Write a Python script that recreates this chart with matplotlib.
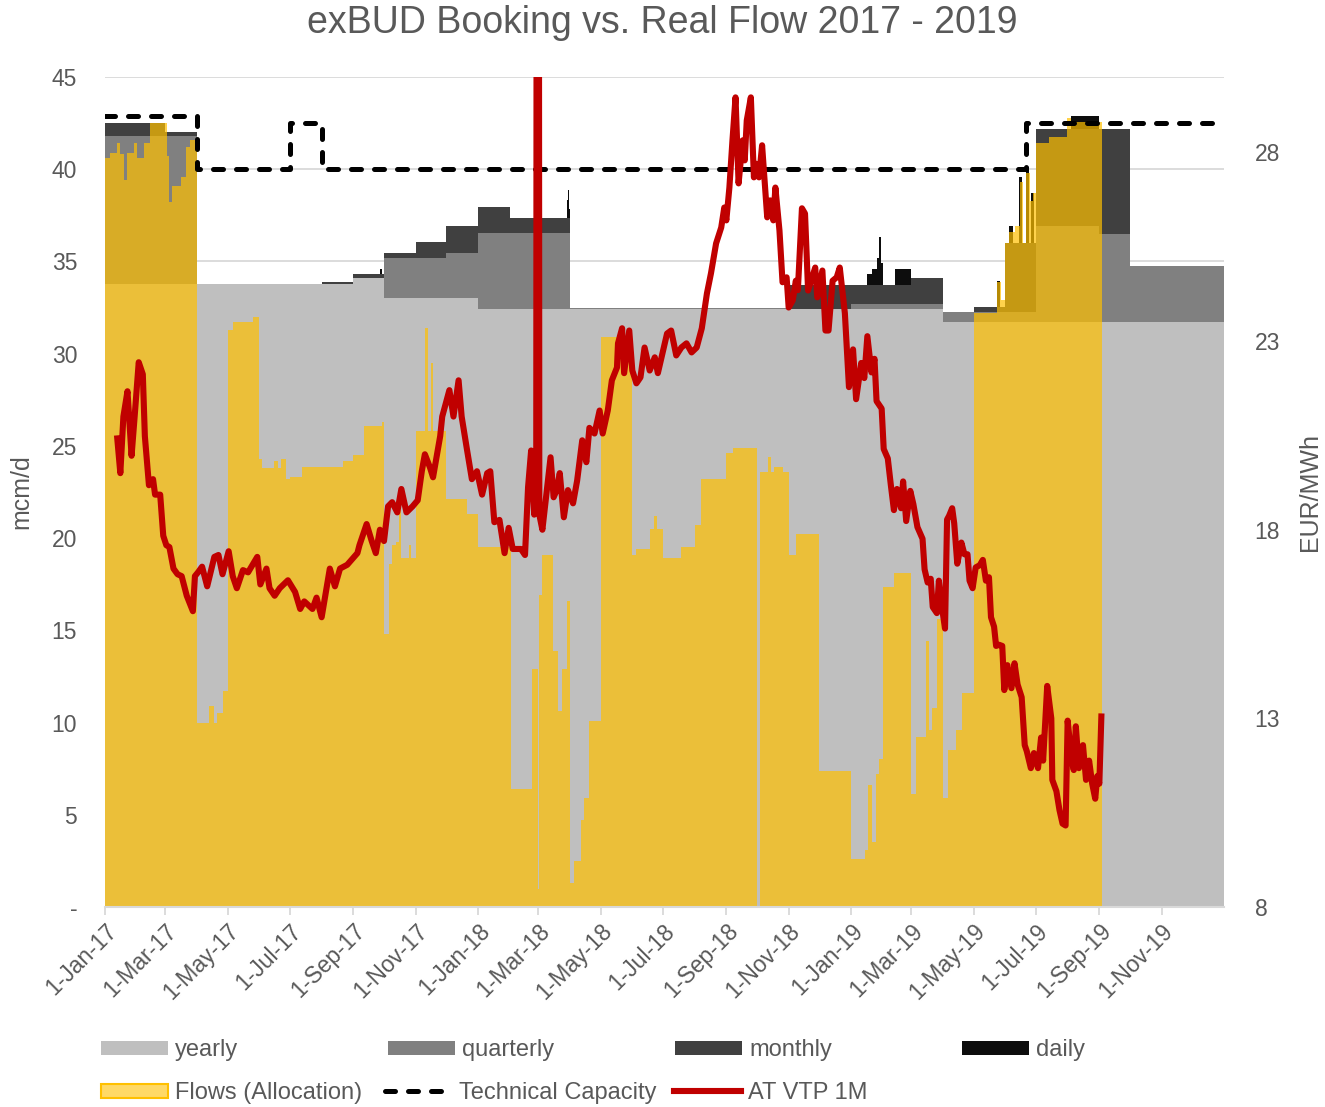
"""
exBUD booking vs. real flow 2017 - 2019
"""
import matplotlib
matplotlib.use('Agg')
import matplotlib.pyplot as plt
import matplotlib.dates as mdates
from matplotlib.patches import Patch
from matplotlib.lines import Line2D
import numpy as np
import pandas as pd

plt.rcParams['font.family'] = ['Liberation Sans', 'DejaVu Sans']
GREY_TXT = '#595959'

# ---------------------------------------------------------------------------------------------------------------------
# Data (step series: value holds from its date until the next date)
# ---------------------------------------------------------------------------------------------------------------------
yearly_dates = ['2017-01-01', '2017-09-01', '2017-10-01', '2018-01-01', '2019-04-01']
yearly_vals = [33.8, 34.1, 33.0, 32.4, 31.7]

quarterly_dates = ['2017-01-01', '2017-04-01', '2017-10-01', '2017-12-01', '2018-01-01', '2018-04-01',
                   '2018-11-01', '2019-01-01', '2019-04-01', '2019-07-01', '2019-09-01', '2019-10-01']
quarterly_vals = [8.0, 0.0, 2.17, 2.47, 4.12, 0.08, 0.0, 0.3, 0.55, 5.2, 4.8, 3.05]

monthly_dates = ['2017-01-01', '2017-03-01', '2017-04-01', '2017-08-01', '2017-09-01', '2017-10-01',
                 '2017-11-01', '2017-12-01', '2018-01-01', '2018-02-01', '2018-04-01', '2018-11-01',
                 '2019-01-01', '2019-03-01', '2019-04-01', '2019-05-01', '2019-06-01', '2019-07-01',
                 '2019-09-01', '2019-10-01']
monthly_vals = [0.7, 0.2, 0.0, 0.1, 0.2, 0.3, 0.9, 1.47, 1.45, 0.82, 0.0, 1.3,
                1.0, 1.4, 0.0, 0.3, 3.75, 5.3, 5.7, 0.0]

daily_dates = ['2017-01-01', '2017-09-27', '2017-09-29', '2018-03-29', '2018-03-30', '2018-03-31',
               '2018-04-01', '2019-01-17', '2019-01-22', '2019-01-26', '2019-01-28', '2019-01-30',
               '2019-02-01', '2019-02-13', '2019-03-01', '2019-05-24', '2019-05-27', '2019-06-05',
               '2019-06-09', '2019-06-14', '2019-06-17', '2019-06-21', '2019-06-24', '2019-06-26',
               '2019-06-29', '2019-08-04', '2019-09-01']
daily_vals = [0.0, 0.3, 0.0, 1.0, 1.55, 0.5,
              0.0, 0.6, 0.9, 1.5, 2.6, 1.2,
              0.0, 0.9, 0.0, 1.4, 0.0, 0.9,
              0.0, 3.6, 0.0, 4.1, 0.0, 2.7,
              0.0, 0.7, 0.0]

flow_dates = ['2017-01-01', '2017-01-06', '2017-01-13', '2017-01-16', '2017-01-20', '2017-01-23',
              '2017-01-29', '2017-02-01', '2017-02-08', '2017-02-14', '2017-03-03', '2017-03-05',
              '2017-03-08', '2017-03-16', '2017-03-21', '2017-03-25', '2017-04-01', '2017-04-13',
              '2017-04-18', '2017-04-21', '2017-04-26', '2017-05-01', '2017-05-06', '2017-05-26',
              '2017-06-01', '2017-06-04', '2017-06-15', '2017-06-19', '2017-06-22', '2017-06-27',
              '2017-07-01', '2017-07-13', '2017-08-22', '2017-09-01', '2017-09-11', '2017-09-29',
              '2017-10-01', '2017-10-06', '2017-10-09', '2017-10-13', '2017-10-16', '2017-10-18',
              '2017-10-25', '2017-10-27', '2017-11-01', '2017-11-10', '2017-11-13', '2017-11-16',
              '2017-11-18', '2017-12-01', '2017-12-21', '2018-01-01', '2018-02-02', '2018-02-23',
              '2018-03-01', '2018-03-02', '2018-03-05', '2018-03-15', '2018-03-20', '2018-03-24',
              '2018-03-29', '2018-04-01', '2018-04-05', '2018-04-12', '2018-04-15', '2018-04-20',
              '2018-05-01', '2018-06-01', '2018-06-05', '2018-06-18', '2018-06-22', '2018-06-25',
              '2018-07-01', '2018-07-19', '2018-08-01', '2018-08-07', '2018-09-01', '2018-09-08',
              '2018-10-01', '2018-10-04', '2018-10-12', '2018-10-15', '2018-10-18', '2018-10-26',
              '2018-11-01', '2018-11-08', '2018-12-01', '2019-01-01', '2019-01-15', '2019-01-18',
              '2019-01-22', '2019-01-25', '2019-01-28', '2019-02-01', '2019-02-12', '2019-03-01',
              '2019-03-06', '2019-03-15', '2019-03-18', '2019-03-21', '2019-03-26', '2019-04-01',
              '2019-04-06', '2019-04-14', '2019-04-20', '2019-05-01', '2019-05-24', '2019-05-28',
              '2019-06-01', '2019-06-05', '2019-06-10', '2019-06-15', '2019-06-18', '2019-06-21',
              '2019-06-25', '2019-06-28', '2019-07-01', '2019-07-14', '2019-07-31', '2019-08-04',
              '2019-09-04']
flow_vals = [40.6, 40.9, 41.4, 40.8, 39.4, 40.9,
             41.4, 40.6, 41.4, 42.5, 40.7, 38.2,
             39.1, 39.6, 41.2, 41.6, 10.0, 10.9,
             10.0, 10.5, 11.7, 31.3, 31.7, 32.0,
             24.3, 23.8, 24.2, 23.8, 24.3, 23.2,
             23.3, 23.85, 24.2, 24.5, 26.1, 26.3,
             14.8, 18.6, 19.6, 19.8, 21.5, 18.9,
             19.6, 18.9, 25.8, 31.4, 25.8, 29.5,
             25.8, 22.1, 21.3, 19.5, 6.4, 12.9,
             1.0, 16.9, 19.1, 13.9, 10.6, 12.9,
             16.6, 1.3, 2.5, 4.7, 5.9, 10.1,
             30.9, 19.1, 19.4, 20.5, 21.2, 20.5,
             18.9, 19.5, 20.7, 23.2, 24.6, 24.9,
             0.0, 23.6, 24.4, 23.6, 23.85, 23.6,
             19.1, 20.25, 7.4, 2.6, 3.1, 6.6,
             3.5, 7.2, 8.0, 17.35, 18.1, 6.1,
             9.2, 14.4, 9.6, 10.8, 15.6, 5.9,
             8.5, 9.6, 11.6, 32.2, 33.9, 32.9,
             36.0, 36.6, 36.9, 39.3, 36.0, 39.8,
             38.3, 38.7, 41.4, 41.75, 42.8, 42.55,
             0.0]

cap_dates = ['2017-01-01', '2017-04-01', '2017-07-01', '2017-08-01', '2019-06-21']
cap_vals = [42.9, 40.0, 42.5, 40.0, 42.5]

price_dates = ['2017-01-13', '2017-01-16', '2017-01-19', '2017-01-23', '2017-01-27', '2017-01-30',
               '2017-02-03', '2017-02-07', '2017-02-09', '2017-02-13', '2017-02-17', '2017-02-19',
               '2017-02-24', '2017-02-27', '2017-03-02', '2017-03-05', '2017-03-09', '2017-03-13',
               '2017-03-17', '2017-03-22', '2017-03-28', '2017-03-30', '2017-04-02', '2017-04-06',
               '2017-04-11', '2017-04-18', '2017-04-22', '2017-04-26', '2017-05-02', '2017-05-06',
               '2017-05-10', '2017-05-16', '2017-05-21', '2017-05-30', '2017-06-02', '2017-06-08',
               '2017-06-11', '2017-06-16', '2017-06-21', '2017-06-29', '2017-07-06', '2017-07-11',
               '2017-07-15', '2017-07-23', '2017-07-27', '2017-08-01', '2017-08-09', '2017-08-14',
               '2017-08-19', '2017-08-26', '2017-09-05', '2017-09-07', '2017-09-14', '2017-09-19',
               '2017-09-23', '2017-09-27', '2017-10-01', '2017-10-05', '2017-10-09', '2017-10-14',
               '2017-10-18', '2017-10-23', '2017-10-29', '2017-11-03', '2017-11-07', '2017-11-10',
               '2017-11-15', '2017-11-18', '2017-11-25', '2017-11-27', '2017-12-04', '2017-12-08',
               '2017-12-13', '2017-12-16', '2017-12-21', '2017-12-26', '2017-12-31', '2018-01-05',
               '2018-01-10', '2018-01-13', '2018-01-17', '2018-01-22', '2018-01-27', '2018-01-31',
               '2018-02-04', '2018-02-12', '2018-02-16', '2018-02-19', '2018-02-22', '2018-02-25',
               '2018-02-27', '2018-02-28', '2018-03-01', '2018-03-02', '2018-03-05', '2018-03-09',
               '2018-03-13', '2018-03-16', '2018-03-19', '2018-03-22', '2018-03-26', '2018-03-30',
               '2018-04-04', '2018-04-08', '2018-04-13', '2018-04-17', '2018-04-20', '2018-04-25',
               '2018-04-30', '2018-05-03', '2018-05-08', '2018-05-12', '2018-05-17', '2018-05-18',
               '2018-05-22', '2018-05-24', '2018-05-29', '2018-06-01', '2018-06-05', '2018-06-09',
               '2018-06-13', '2018-06-18', '2018-06-23', '2018-06-26', '2018-06-30', '2018-07-05',
               '2018-07-09', '2018-07-14', '2018-07-19', '2018-07-24', '2018-07-29', '2018-08-03',
               '2018-08-08', '2018-08-13', '2018-08-17', '2018-08-22', '2018-08-27', '2018-08-30',
               '2018-09-01', '2018-09-04', '2018-09-07', '2018-09-10', '2018-09-13', '2018-09-17',
               '2018-09-19', '2018-09-21', '2018-09-25', '2018-09-28', '2018-09-30', '2018-10-03',
               '2018-10-06', '2018-10-11', '2018-10-14', '2018-10-17', '2018-10-19', '2018-10-23',
               '2018-10-26', '2018-10-30', '2018-11-01', '2018-11-05', '2018-11-08', '2018-11-10',
               '2018-11-14', '2018-11-17', '2018-11-20', '2018-11-24', '2018-11-27', '2018-11-29',
               '2018-12-04', '2018-12-07', '2018-12-10', '2018-12-14', '2018-12-18', '2018-12-21',
               '2018-12-26', '2018-12-30', '2019-01-03', '2019-01-06', '2019-01-11', '2019-01-14',
               '2019-01-17', '2019-01-21', '2019-01-24', '2019-01-26', '2019-01-31', '2019-02-02',
               '2019-02-06', '2019-02-09', '2019-02-12', '2019-02-15', '2019-02-19', '2019-02-21',
               '2019-02-24', '2019-02-28', '2019-03-03', '2019-03-07', '2019-03-12', '2019-03-14',
               '2019-03-17', '2019-03-20', '2019-03-22', '2019-03-26', '2019-03-28', '2019-03-31',
               '2019-04-03', '2019-04-05', '2019-04-07', '2019-04-10', '2019-04-12', '2019-04-15',
               '2019-04-19', '2019-04-22', '2019-04-25', '2019-04-27', '2019-04-30', '2019-05-03',
               '2019-05-07', '2019-05-10', '2019-05-13', '2019-05-16', '2019-05-18', '2019-05-21',
               '2019-05-23', '2019-05-26', '2019-05-29', '2019-05-31', '2019-06-03', '2019-06-07',
               '2019-06-10', '2019-06-13', '2019-06-17', '2019-06-20', '2019-06-22', '2019-06-26',
               '2019-06-29', '2019-07-03', '2019-07-06', '2019-07-08', '2019-07-12', '2019-07-16',
               '2019-07-17', '2019-07-21', '2019-07-24', '2019-07-27', '2019-07-30', '2019-08-01',
               '2019-08-05', '2019-08-07', '2019-08-09', '2019-08-12', '2019-08-16', '2019-08-19',
               '2019-08-22', '2019-08-25', '2019-08-28', '2019-08-30', '2019-09-01', '2019-09-03']
price_vals = [20.42, 19.5, 21.0, 21.67, 19.96, 21.0,
              22.44, 22.12, 20.48, 19.18, 19.34, 18.93,
              18.93, 17.84, 17.59, 17.54, 16.97, 16.82,
              16.77, 16.25, 15.84, 16.77, 16.87, 17.02,
              16.5, 17.28, 17.33, 16.82, 17.43, 16.77,
              16.45, 16.93, 16.87, 17.28, 16.55, 16.97,
              16.45, 16.25, 16.45, 16.66, 16.35, 15.9,
              16.1, 15.9, 16.2, 15.68, 16.97, 16.5,
              16.97, 17.07, 17.38, 17.59, 18.15, 17.7,
              17.38, 18.0, 17.7, 18.62, 18.73, 18.46,
              19.08, 18.46, 18.62, 18.78, 19.55, 20.0,
              19.65, 19.39, 20.48, 21.0, 21.7, 21.0,
              21.96, 21.0, 20.16, 19.34, 19.55, 18.93,
              19.5, 19.55, 18.2, 18.26, 17.38, 18.05,
              17.49, 17.49, 17.33, 19.13, 20.1, 18.4,
              19.65, 60.0, 60.0, 18.4, 18.0, 18.97,
              19.92, 18.86, 19.05, 19.5, 18.33, 19.05,
              18.7, 19.3, 20.37, 19.79, 20.7, 20.55,
              21.16, 20.55, 21.16, 21.96, 22.3, 22.94,
              23.34, 22.15, 23.28, 22.22, 21.88, 22.04,
              22.83, 22.22, 22.57, 22.15, 22.62, 23.2,
              23.28, 22.62, 22.83, 22.94, 22.7, 22.83,
              23.34, 24.26, 24.8, 25.59, 26.01, 26.54,
              26.2, 27.07, 28.32, 29.46, 27.18, 28.32,
              27.79, 28.85, 29.46, 27.34, 27.7, 27.34,
              28.19, 26.28, 26.73, 26.2, 27.07, 25.93,
              24.56, 24.69, 23.89, 24.08, 24.6, 24.35,
              26.52, 26.38, 24.34, 24.69, 24.95, 24.16,
              24.87, 23.28, 23.28, 24.6, 24.69, 24.95,
              23.74, 21.78, 22.78, 21.46, 22.42, 22.02,
              23.13, 22.17, 22.53, 21.41, 21.21, 20.14,
              19.89, 19.18, 18.52, 19.08, 18.57, 19.28,
              18.23, 19.03, 18.68, 18.07, 17.76, 16.95,
              16.6, 16.7, 15.95, 15.79, 16.65, 15.95,
              15.38, 18.27, 18.37, 18.57, 18.17, 17.1,
              17.66, 17.35, 17.35, 16.65, 16.45, 17.0,
              17.06, 17.2, 16.65, 16.74, 15.68, 15.43,
              14.92, 14.95, 14.92, 13.75, 14.41, 13.8,
              14.46, 13.9, 13.56, 12.29, 12.13, 11.68,
              12.08, 11.68, 12.49, 11.88, 13.86, 13.0,
              11.37, 11.07, 10.57, 10.21, 10.16, 12.94,
              11.88, 11.63, 12.79, 11.68, 12.29, 11.37,
              11.88, 11.27, 10.87, 11.47, 11.27, 13.05]

tick_dates = pd.date_range('2017-01-01', '2019-11-01', freq='2MS')

START, END = pd.Timestamp('2017-01-01'), pd.Timestamp('2020-01-01')


def step_series(dates, vals):
    """Close an open step series at END so fill_between(step='post') covers the last period."""
    d = list(pd.to_datetime(dates)) + [END]
    v = list(vals) + [vals[-1]]
    return np.array(d), np.array(v, dtype=float)


def step_at(grid, dates, vals):
    idx = np.searchsorted(pd.to_datetime(dates).values, grid.astype('datetime64[ns]'), side='right') - 1
    return np.asarray(vals, dtype=float)[idx]


# ---------------------------------------------------------------------------------------------------------------------
# Figure
# ---------------------------------------------------------------------------------------------------------------------
fig = plt.figure(figsize=(13.25, 11.07), dpi=100)
ax = fig.add_axes([105 / 1325, 1 - 907 / 1107, 1119 / 1325, 830 / 1107])

# stacked bookings on one common date grid
grid = np.unique(np.concatenate([pd.to_datetime(d).values for d in
                                 (yearly_dates, quarterly_dates, monthly_dates, daily_dates)]
                                + [np.array([END.to_datetime64()])]))
layers = [('yearly', yearly_dates, yearly_vals, '#BFBFBF'),
          ('quarterly', quarterly_dates, quarterly_vals, '#808080'),
          ('monthly', monthly_dates, monthly_vals, '#404040'),
          ('daily', daily_dates, daily_vals, '#0D0D0D')]
base = np.zeros(len(grid))
for name, d, v, col in layers:
    top = base + step_at(grid, d, v)
    ax.fill_between(grid, base, top, step='post', color=col, lw=0, zorder=1)
    base = top

fx, fv = step_series(flow_dates, flow_vals)
ax.fill_between(fx, 0, fv, step='post', color='#FFC000', alpha=0.7, lw=0, zorder=2)

cx, cv = step_series(cap_dates, cap_vals)
ax.plot(cx, cv, drawstyle='steps-post', color='black', lw=3.6, dashes=(2.0, 2.6),
        dash_capstyle='round', zorder=3)

ax.set_xlim(START, END)
ax.set_ylim(0, 45)
ax.set_yticks(np.arange(0, 46, 5))
ax.set_yticklabels(['-'] + [str(v) for v in range(5, 46, 5)])
ax.yaxis.grid(True, color='#D9D9D9', lw=1.3)
ax.set_axisbelow(True)
for s in ['left', 'right', 'top']:
    ax.spines[s].set_visible(False)
ax.spines['bottom'].set_color('#D9D9D9')
ax.spines['bottom'].set_linewidth(1.5)
ax.tick_params(axis='y', length=0, pad=20, labelsize=16.5, labelcolor=GREY_TXT)
ax.tick_params(axis='x', length=6, color='#D9D9D9', width=1.3, pad=3, labelsize=16.5, labelcolor=GREY_TXT)
ax.set_xticks(tick_dates)
ax.set_xticklabels(['{}-{}'.format(d.day, d.strftime('%b-%y')) for d in tick_dates],
                   rotation=45, ha='right', rotation_mode='anchor')
ax.set_ylabel('mcm/d', fontsize=18, color=GREY_TXT)
ax.yaxis.set_label_coords(-0.064, 0.5)

# price on secondary axis
ax2 = ax.twinx()
ax2.plot(pd.to_datetime(price_dates), price_vals, color='#C00000', lw=4.4, solid_joinstyle='round', zorder=4)
ax2.set_ylim(8, 30)
ax2.set_yticks([8, 13, 18, 23, 28])
for s in ['left', 'right', 'top', 'bottom']:
    ax2.spines[s].set_visible(False)
ax2.tick_params(axis='y', length=0, pad=22, labelsize=16.5, labelcolor=GREY_TXT)
ax2.set_ylabel('EUR/MWh', fontsize=18, color=GREY_TXT, rotation=90)
ax2.yaxis.set_label_coords(1.066, 0.5)
ax2.set_xlim(START, END)

fig.suptitle('exBUD Booking vs. Real Flow 2017 - 2019', fontsize=27, color=GREY_TXT, y=1 - 23 / 1107, va='center')

# legend: one small legend per entry to keep the spacing of the original
entries = [
    (Patch(facecolor='#BFBFBF', edgecolor='none'), 'yearly', 101, 1050),
    (Patch(facecolor='#808080', edgecolor='none'), 'quarterly', 388, 1050),
    (Patch(facecolor='#404040', edgecolor='none'), 'monthly', 675, 1050),
    (Patch(facecolor='#0D0D0D', edgecolor='none'), 'daily', 962, 1050),
    (Patch(facecolor='#FFD966', edgecolor='#FFC000', lw=1.5), 'Flows (Allocation)', 101, 1093),
    (Line2D([], [], color='black', lw=3.6, dashes=(2.0, 2.6), dash_capstyle='round'),
     'Technical Capacity', 385, 1093),
    (Line2D([], [], color='#C00000', lw=4.4), 'AT VTP 1M', 674, 1093),
]
for h, lab, px, py in entries:
    fig.legend(handles=[h], labels=[lab], loc='center left', bbox_to_anchor=(px / 1325, 1 - py / 1107),
               frameon=False, fontsize=17, handlelength=2.85, handleheight=0.55, handletextpad=0.3,
               borderpad=0, borderaxespad=0, labelcolor=GREY_TXT)

fig.savefig('out.png', dpi=100)
